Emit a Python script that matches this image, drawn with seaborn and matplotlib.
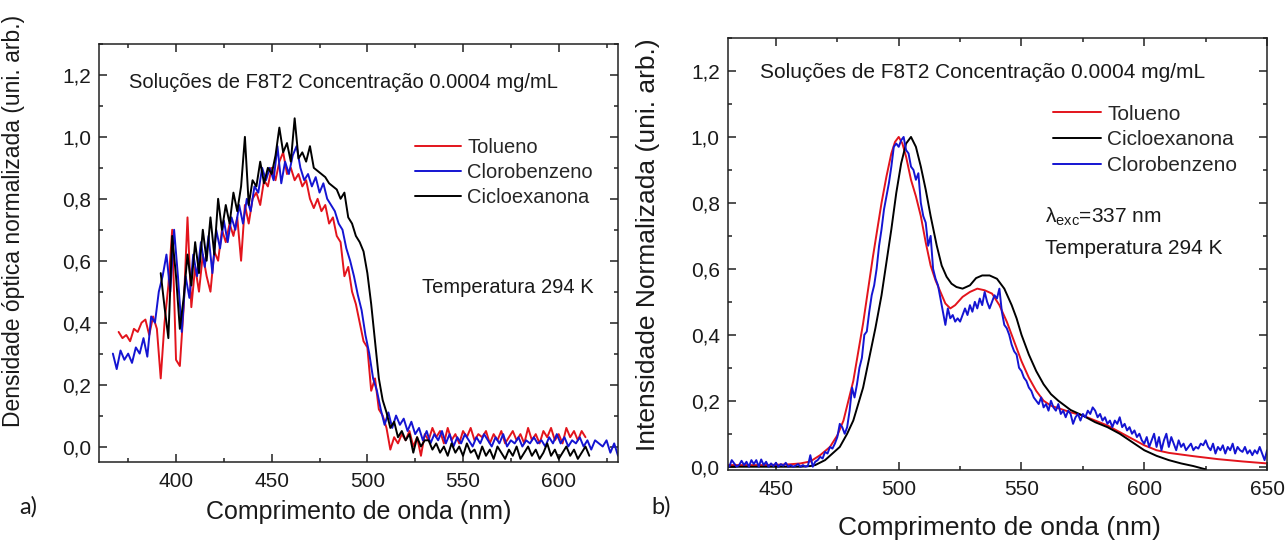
import numpy as np
import pandas as pd
import matplotlib
matplotlib.use("Agg")
import matplotlib.pyplot as plt
from matplotlib.ticker import MultipleLocator, FuncFormatter
import seaborn as sns

# ---------------- Data: (a) absorption, 2 nm sampling ----------------
abs_tol_start = 370
abs_tol = [0.37, 0.35, 0.36, 0.34, 0.38, 0.37, 0.40, 0.41, 0.36, 0.42,
           0.38, 0.22, 0.40, 0.52, 0.70, 0.28, 0.26, 0.45, 0.74, 0.45,
           0.58, 0.50, 0.62, 0.55, 0.50, 0.63, 0.60, 0.70, 0.66, 0.72,
           0.68, 0.74, 0.60, 0.78, 0.72, 0.80, 0.82, 0.78, 0.86, 0.84,
           0.90, 0.86, 0.92, 0.95, 0.88, 0.90, 0.86, 0.88, 0.84, 0.86,
           0.80, 0.77, 0.80, 0.76, 0.78, 0.72, 0.74, 0.68, 0.66, 0.55,
           0.58, 0.50, 0.46, 0.40, 0.34, 0.32, 0.18, 0.22, 0.12, 0.10,
           0.06, -0.01, 0.03, 0.01, 0.04, 0.02, 0.05, 0.00, 0.03, -0.03,
           0.04, 0.02, 0.06, 0.03, 0.05, 0.01, 0.06, 0.02, 0.04, 0.01,
           0.05, 0.03, 0.06, 0.02, 0.04, 0.03, 0.05, 0.01, 0.04, 0.02,
           0.05, 0.01, 0.03, 0.05, 0.02, 0.04, 0.01, 0.06, 0.02, 0.04,
           0.01, 0.05, 0.03, 0.06, 0.02, 0.04, 0.01, 0.06, 0.03, 0.05,
           0.02, 0.05, 0.03]

abs_clb_start = 367
abs_clb = [0.30, 0.25, 0.31, 0.28, 0.30, 0.27, 0.32, 0.30, 0.35, 0.29,
           0.42, 0.40, 0.50, 0.55, 0.62, 0.50, 0.70, 0.55, 0.37, 0.55,
           0.48, 0.62, 0.55, 0.66, 0.58, 0.68, 0.56, 0.70, 0.64, 0.73,
           0.66, 0.74, 0.70, 0.78, 0.72, 0.80, 0.76, 0.84, 0.82, 0.90,
           0.86, 0.90, 0.86, 0.97, 0.85, 0.92, 0.88, 0.94, 0.97, 0.90,
           0.86, 0.88, 0.84, 0.87, 0.82, 0.85, 0.80, 0.78, 0.76, 0.72,
           0.70, 0.64, 0.60, 0.55, 0.49, 0.44, 0.36, 0.30, 0.22, 0.18,
           0.12, 0.07, 0.11, 0.06, 0.10, 0.07, 0.09, 0.05, 0.08, 0.04,
           0.06, 0.02, 0.05, 0.01, 0.04, 0.02, 0.05, 0.01, 0.04, 0.00,
           0.03, 0.01, 0.04, 0.02, 0.00, 0.03, 0.01, 0.04, 0.02, 0.00,
           0.03, 0.01, 0.04, 0.00, 0.02, 0.01, 0.03, 0.00, 0.02, 0.01,
           0.03, 0.01, 0.02, 0.00, 0.03, 0.01, 0.04, 0.01, 0.03, 0.00,
           0.02, 0.01, 0.03, 0.00, 0.02, -0.01, 0.02, 0.01, 0.00, 0.02,
           -0.02, 0.01, -0.03]

abs_cic_start = 392
abs_cic = [0.56, 0.45, 0.35, 0.68, 0.55, 0.38, 0.48, 0.62, 0.52, 0.66,
           0.56, 0.70, 0.60, 0.74, 0.62, 0.80, 0.70, 0.78, 0.72, 0.82,
           0.76, 0.84, 1.00, 0.78, 0.86, 0.84, 0.92, 0.85, 0.90, 0.88,
           0.94, 1.03, 0.95, 0.98, 0.92, 1.06, 0.93, 0.95, 0.92, 0.97,
           0.90, 0.89, 0.88, 0.87, 0.85, 0.84, 0.83, 0.80, 0.82, 0.74,
           0.72, 0.68, 0.66, 0.63, 0.56, 0.46, 0.34, 0.22, 0.15, 0.11,
           0.06, 0.08, 0.03, 0.05, 0.02, 0.04, -0.02, 0.03, 0.00, 0.02,
           0.02, -0.01, 0.01, -0.02, 0.00, -0.03, 0.01, -0.02, 0.00, -0.03,
           0.01, -0.02, -0.01, -0.04, 0.00, -0.03, -0.01, -0.04, 0.00, -0.02,
           -0.04, -0.01, -0.03, 0.00, -0.04, -0.02, 0.00, -0.03, -0.01, -0.04,
           -0.02, 0.01, -0.03, -0.01, -0.04, -0.02, 0.00, -0.03, -0.01, -0.04,
           -0.02, 0.00, -0.03]

# ---------------- Data: (b) photoluminescence ----------------
pl_tol_x = [430, 445, 455, 460, 464, 468, 472, 475, 477.5, 481.5,
            485.5, 489.5, 493, 495, 497, 498.5, 500, 501.5, 503, 505,
            507, 509, 511, 513, 515, 517, 519, 521, 523, 526,
            529, 532, 535, 538, 541, 544, 547, 550, 553, 556,
            559, 562, 566, 570, 575, 580, 585, 590, 595, 600,
            605, 610, 620, 630, 640, 650]
pl_tol_y = [0.005, 0.005, 0.007, 0.010, 0.016, 0.035, 0.060, 0.095, 0.140, 0.260,
            0.435, 0.637, 0.800, 0.880, 0.950, 0.985, 1.000, 0.980, 0.940, 0.870,
            0.820, 0.760, 0.680, 0.610, 0.565, 0.530, 0.495, 0.480, 0.490, 0.515,
            0.530, 0.540, 0.535, 0.525, 0.490, 0.440, 0.380, 0.320, 0.270, 0.230,
            0.200, 0.185, 0.175, 0.165, 0.155, 0.140, 0.125, 0.105, 0.085, 0.065,
            0.050, 0.042, 0.032, 0.023, 0.016, 0.010]

pl_cic_x = [430, 460, 464, 466, 470, 473, 476, 479, 481.5, 483.5,
            485.5, 488, 490.5, 493, 495, 497, 499, 501, 503, 505,
            507, 509, 511, 513, 515.5, 517.5, 519.5, 521.5, 523.5, 526,
            529, 531.5, 534, 537, 540, 543, 546, 548, 550, 553,
            556, 559, 562, 565, 570, 575, 580, 585, 590, 595,
            600, 605, 610, 615, 620, 625]
pl_cic_y = [0.000, 0.000, 0.002, 0.005, 0.020, 0.040, 0.060, 0.100, 0.140, 0.190,
            0.240, 0.330, 0.420, 0.520, 0.620, 0.720, 0.830, 0.920, 0.980, 1.000,
            0.970, 0.910, 0.840, 0.760, 0.670, 0.610, 0.576, 0.555, 0.545, 0.540,
            0.550, 0.572, 0.580, 0.580, 0.570, 0.540, 0.490, 0.450, 0.400, 0.340,
            0.290, 0.250, 0.220, 0.200, 0.172, 0.155, 0.135, 0.120, 0.100, 0.075,
            0.050, 0.033, 0.020, 0.010, 0.002, -0.008]

pl_clb_start = 431
pl_clb = [0.000, 0.020, 0.010, 0.000, 0.005, 0.018, 0.005, 0.015, 0.000, 0.020,
          0.008, 0.020, 0.000, 0.022, 0.005, 0.015, 0.000, 0.010, 0.002, 0.012,
          0.000, 0.008, 0.003, 0.012, 0.000, 0.005, 0.000, 0.003, 0.008, 0.000,
          0.005, 0.000, 0.002, 0.035, 0.000, 0.015, 0.020, 0.030, 0.025, 0.045,
          0.040, 0.060, 0.055, 0.070, 0.090, 0.130, 0.120, 0.100, 0.120, 0.170,
          0.240, 0.210, 0.250, 0.300, 0.330, 0.400, 0.410, 0.470, 0.520, 0.550,
          0.600, 0.670, 0.720, 0.780, 0.820, 0.860, 0.910, 0.970, 0.980, 0.970,
          0.990, 1.000, 0.960, 0.950, 0.910, 0.900, 0.870, 0.890, 0.800, 0.760,
          0.740, 0.670, 0.700, 0.600, 0.570, 0.550, 0.510, 0.470, 0.430, 0.480,
          0.450, 0.460, 0.440, 0.450, 0.440, 0.460, 0.480, 0.460, 0.490, 0.470,
          0.500, 0.480, 0.510, 0.490, 0.530, 0.500, 0.480, 0.500, 0.520, 0.510,
          0.540, 0.470, 0.430, 0.420, 0.400, 0.370, 0.350, 0.340, 0.300, 0.290,
          0.270, 0.260, 0.240, 0.230, 0.210, 0.200, 0.190, 0.210, 0.180, 0.190,
          0.170, 0.200, 0.180, 0.170, 0.190, 0.160, 0.170, 0.150, 0.170, 0.160,
          0.130, 0.150, 0.160, 0.140, 0.160, 0.150, 0.170, 0.160, 0.180, 0.170,
          0.150, 0.160, 0.140, 0.150, 0.130, 0.140, 0.120, 0.140, 0.130, 0.150,
          0.120, 0.130, 0.110, 0.120, 0.100, 0.110, 0.090, 0.100, 0.080, 0.070,
          0.090, 0.060, 0.080, 0.100, 0.060, 0.090, 0.050, 0.080, 0.100, 0.060,
          0.090, 0.070, 0.050, 0.080, 0.060, 0.070, 0.050, 0.060, 0.070, 0.050,
          0.060, 0.055, 0.070, 0.065, 0.080, 0.060, 0.050, 0.070, 0.040, 0.060,
          0.050, 0.065, 0.040, 0.060, 0.050, 0.070, 0.040, 0.060, 0.050, 0.045,
          0.060, 0.040, 0.050, 0.035, 0.050, 0.040, 0.060, 0.040, 0.020, 0.050]

labels_a = ["Tolueno", "Clorobenzeno", "Cicloexanona"]
labels_b = ["Tolueno", "Cicloexanona", "Clorobenzeno"]

# ---------------- Style ----------------
sns.set_style("ticks")
plt.rcParams['font.family'] = ['Liberation Sans', 'DejaVu Sans']
plt.rcParams['mathtext.fontset'] = 'custom'
plt.rcParams['mathtext.rm'] = 'Liberation Sans'
plt.rcParams['mathtext.it'] = 'Liberation Sans:italic'
plt.rcParams['axes.linewidth'] = 1.1

RED = '#e3141c'
BLUE = '#1414d2'
BLACK = '#000000'
LW = 1.4
TXT = '#1a1a1a'

fig = plt.figure(figsize=(12.87, 5.43), dpi=100)
ax1 = fig.add_axes([0.0773, 0.1492, 0.4029, 0.7698])
ax2 = fig.add_axes([0.5657, 0.1344, 0.4188, 0.7956])


def grid(start, vals, step):
    return start + step * np.arange(len(vals))


# ---- panel a ----
df_a = pd.concat([
    pd.DataFrame({"wl": grid(abs_tol_start, abs_tol, 2), "v": abs_tol, "s": labels_a[0]}),
    pd.DataFrame({"wl": grid(abs_clb_start, abs_clb, 2), "v": abs_clb, "s": labels_a[1]}),
    pd.DataFrame({"wl": grid(abs_cic_start, abs_cic, 2), "v": abs_cic, "s": labels_a[2]}),
])
sns.lineplot(data=df_a, x="wl", y="v", hue="s", hue_order=labels_a,
             palette=[RED, BLUE, BLACK], estimator=None, sort=False,
             lw=LW, ax=ax1)

# ---- panel b ----
df_b = pd.concat([
    pd.DataFrame({"wl": pl_tol_x, "v": pl_tol_y, "s": labels_b[0]}),
    pd.DataFrame({"wl": pl_cic_x, "v": pl_cic_y, "s": labels_b[1]}),
    pd.DataFrame({"wl": grid(pl_clb_start, pl_clb, 1), "v": pl_clb, "s": labels_b[2]}),
])
sns.lineplot(data=df_b, x="wl", y="v", hue="s", hue_order=labels_b,
             palette=[RED, BLACK, BLUE], estimator=None, sort=False,
             lw=LW, ax=ax2)

fmt = FuncFormatter(lambda v, p: ("%.1f" % (0.0 if abs(v) < 1e-9 else v)).replace('.', ','))

for ax, xl, yl in [(ax1, (360, 631), (-0.05, 1.3)), (ax2, (430.5, 650), (-0.01, 1.3))]:
    ax.set_xlim(*xl)
    ax.set_ylim(*yl)
    ax.xaxis.set_major_locator(MultipleLocator(50))
    ax.xaxis.set_minor_locator(MultipleLocator(25))
    ax.yaxis.set_major_locator(MultipleLocator(0.2))
    ax.yaxis.set_minor_locator(MultipleLocator(0.1))
    ax.yaxis.set_major_formatter(fmt)
    ax.tick_params(which='both', direction='in', top=True, right=True,
                   width=1.1, color='#222222')
    ax.tick_params(which='major', length=6, labelsize=15, labelcolor=TXT)
    ax.tick_params(which='minor', length=3)
    ax.tick_params(axis='x', which='major', pad=7)
    ax.tick_params(axis='y', which='major', pad=6)
    for sp in ax.spines.values():
        sp.set_visible(True)
        sp.set_linewidth(1.1)
        sp.set_color('#222222')

# axis labels
ax1.set_xlabel("Comprimento de onda (nm)", fontsize=18, color=TXT)
ax1.set_ylabel("Densidade óptica normalizada (uni. arb.)", fontsize=16.5, color=TXT)
ax2.set_xlabel("Comprimento de onda (nm)", fontsize=19, color=TXT)
ax2.set_ylabel("Intensidade Normalizada (uni. arb.)", fontsize=19, color=TXT)
for lab in [ax1.xaxis.label, ax1.yaxis.label, ax2.xaxis.label, ax2.yaxis.label]:
    lab.set_verticalalignment('center')
ax1.xaxis.set_label_coords(0.50, -0.120)
ax1.yaxis.set_label_coords(-0.165, 0.577)
ax2.xaxis.set_label_coords(0.503, -0.134)
ax2.yaxis.set_label_coords(-0.148, 0.521)

# legends
ax1.legend(frameon=False, loc='upper left', bbox_to_anchor=(0.6085, 0.776),
           borderpad=0, borderaxespad=0, handlelength=2.3, handletextpad=0.3,
           labelspacing=0.3, fontsize=14.5)
ax2.legend(frameon=False, loc='upper left', bbox_to_anchor=(0.603, 0.846),
           borderpad=0, borderaxespad=0, handlelength=2.3, handletextpad=0.3,
           labelspacing=0.33, fontsize=15)

# annotations
ax1.text(375.4, 1.177, "Soluções de F8T2 Concentração 0.0004 mg/mL",
         fontsize=14.5, va='center', ha='left', color=TXT)
ax1.text(528.6, 0.515, "Temperatura 294 K", fontsize=14.5, va='center', ha='left', color=TXT)
ax2.text(443.5, 1.195, "Soluções de F8T2 Concentração 0.0004 mg/mL",
         fontsize=15, va='center', ha='left', color=TXT)
ax2.text(559.6, 0.757, "λ$_{\\mathrm{exc}}$=337 nm", fontsize=15,
         va='center', ha='left', color=TXT)
ax2.text(559.6, 0.663, "Temperatura 294 K", fontsize=15, va='center', ha='left', color=TXT)

fig.text(0.0218, 0.0663, "a)", fontsize=17, family=['Lato', 'DejaVu Sans'],
         ha='center', va='center', color=TXT)
fig.text(0.514, 0.0663, "b)", fontsize=17, family=['Lato', 'DejaVu Sans'],
         ha='center', va='center', color=TXT)

fig.savefig("out.png", dpi=100)
